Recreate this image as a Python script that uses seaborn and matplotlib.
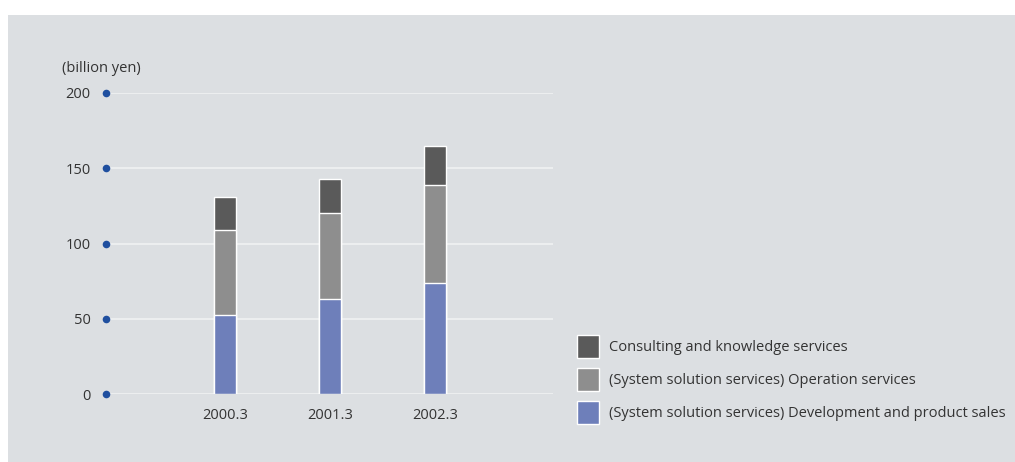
import numpy as np
import pandas as pd
import matplotlib
matplotlib.use("Agg")
import matplotlib.pyplot as plt
from matplotlib.patches import Rectangle, Patch
import seaborn as sns

# ---- data ----
years = ["2000.3", "2001.3", "2002.3"]
development = [52.5, 63, 74]
operation = [56.5, 57, 65]
consulting = [22, 23, 26]
series_labels = [
    "Consulting and knowledge services",
    "(System solution services) Operation services",
    "(System solution services) Development and product sales",
]
yticks = [0, 50, 100, 150, 200]
unit_label = "(billion yen)"

# ---- style ----
sns.set_theme(style="white")
plt.rcParams["font.family"] = ["Open Sans", "DejaVu Sans"]
BG = "#dcdfe2"
C_DEV = "#6e7fba"
C_OPE = "#8e8e8e"
C_CON = "#5a5a5a"
DOT = "#1f4f9f"
TXT = "#333333"
FS = 10.5

fig = plt.figure(figsize=(10.15, 4.62), dpi=100)
fig.patch.set_facecolor("white")
fig.patches.append(Rectangle((8 / 1015, 0), 1 - 8 / 1015, 1 - 15 / 462,
                             transform=fig.transFigure, facecolor=BG,
                             edgecolor="none", zorder=-10))

ax = fig.add_axes([106 / 1015, (462 - 394) / 462, (553 - 106) / 1015, (394 - 93) / 462])
ax.set_facecolor("none")
ax.set_zorder(1)

df = pd.DataFrame({"year": years, "dev": development, "ope": operation, "con": consulting})
df["lvl1"] = df["dev"]
df["lvl2"] = df["dev"] + df["ope"]
df["lvl3"] = df["lvl2"] + df["con"]

# gridlines
for t in yticks:
    ax.axhline(t, color="#f2f3f4", lw=1.1, zorder=0.5)

bw = 22 / 105
for col, c in [("lvl3", C_CON), ("lvl2", C_OPE), ("lvl1", C_DEV)]:
    sns.barplot(data=df, x="year", y=col, color=c, width=bw, saturation=1,
                edgecolor="white", linewidth=1.0, ax=ax, zorder=2)

ax.set_xlim(-119 / 105, 328 / 105)
ax.set_ylim(0, 200)
ax.set_yticks(yticks)
ax.set_yticklabels([str(t) for t in yticks], fontsize=FS, color=TXT)
ax.tick_params(axis="y", length=0, pad=11)
ax.tick_params(axis="x", length=0, pad=10, labelsize=FS, labelcolor=TXT)
ax.set_xlabel("")
ax.set_ylabel("")
for s in ax.spines.values():
    s.set_visible(False)

# dots at tick positions
ax.scatter([ax.get_xlim()[0]] * len(yticks), yticks, s=30, color=DOT,
           clip_on=False, zorder=5, linewidths=0)

fig.text(62 / 1015, 1 - 69 / 462, unit_label, fontsize=FS, color=TXT,
         ha="left", va="center")

handles = [Patch(facecolor=c, edgecolor="white", linewidth=1.0) for c in (C_CON, C_OPE, C_DEV)]
fig.legend(handles, series_labels, loc="upper left",
           bbox_to_anchor=(577 / 1015, 1 - 335 / 462), frameon=False,
           fontsize=FS, labelcolor=TXT, handlelength=1.5, handleheight=2.0,
           handletextpad=0.7, labelspacing=0.72, borderpad=0, borderaxespad=0)

fig.savefig("out.png", dpi=100, facecolor=fig.get_facecolor())
